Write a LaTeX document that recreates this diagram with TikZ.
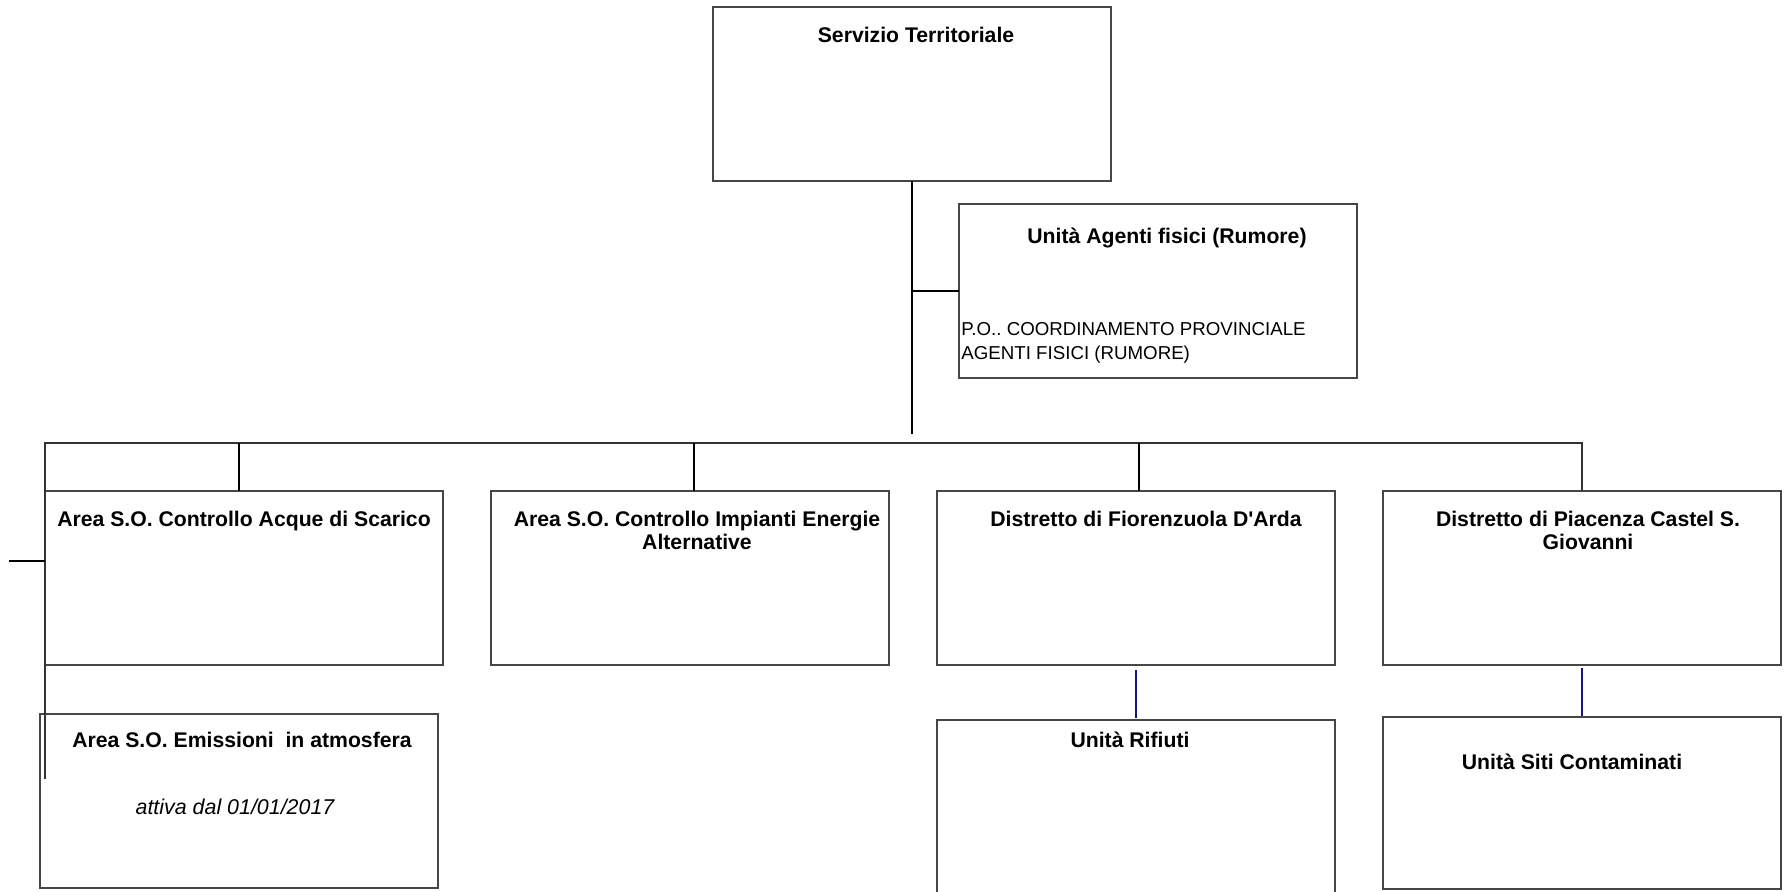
\documentclass[tikz,border=0pt]{standalone}
\usepackage{fontspec}
\setmainfont{Liberation Sans}
\frenchspacing
\definecolor{boxgray}{RGB}{70,70,70}
\definecolor{linknavy}{RGB}{20,20,130}
\tikzset{
  unitbox/.style={draw=boxgray, line width=0.75pt, fill=none, inner sep=0pt, outer sep=0pt,
    minimum width=199pt, minimum height=87pt},
  title/.style={inner sep=0pt, anchor=base, align=center, font=\fontsize{10.6}{12}\selectfont\bfseries},
  note/.style={inner sep=0pt, anchor=base west, align=left, font=\fontsize{9.35}{12}\selectfont},
  dateline/.style={inner sep=0pt, anchor=base, font=\fontsize{10.7}{12}\selectfont\itshape},
  link/.style={draw=black, line width=1pt},
  buslink/.style={draw=black!80, line width=0.8pt},
  navylink/.style={draw=linknavy, line width=0.6pt}
}
\begin{document}
\begin{tikzpicture}[x=0.5pt,y=-0.5pt]
\useasboundingbox (0,0) rectangle (1787,892);
% boxes
\node[unitbox] (top) at (912,94) {};
\node[unitbox] (agenti) at (1158,291) {};
\node[unitbox] (acque) at (244,578) {};
\node[unitbox] (impianti) at (690,578) {};
\node[unitbox] (fiorenz) at (1136,578) {};
\node[unitbox] (piacenza) at (1582,578) {};
\node[unitbox] (emiss) at (239,801) {};
\node[unitbox, minimum height=90pt] (rifiuti) at (1136,810) {};
\node[unitbox, minimum height=86pt] (siti) at (1582,803) {};
% texts (multi-line nodes are placed by the baseline of their last line)
\node[title] (ttop) at (916,43) {Servizio Territoriale};
\node[title] (tagenti) at (1167,244) {Unità Agenti fisici (Rumore)};
\node[note] (nagenti) at (961,360) {P.O.. COORDINAMENTO PROVINCIALE\\AGENTI FISICI (RUMORE)};
\node[title] (tacque) at (244,526) {Area S.O. Controllo Acque di Scarico};
\node[title] (timpianti) at (697,550) {Area S.O. Controllo Impianti Energie\\Alternative};
\node[title] (tfiorenz) at (1146,526) {Distretto di Fiorenzuola D\textquotesingle Arda};
\node[title] (tpiacenza) at (1588,550) {Distretto di Piacenza Castel S.\\Giovanni};
\node[title] (temiss) at (242,747) {Area S.O. Emissioni\ \ in atmosfera};
\node[dateline] (demiss) at (235,814) {attiva dal 01/01/2017};
\node[title] (trifiuti) at (1130,747) {Unità Rifiuti};
\node[title] (tsiti) at (1572,769) {Unità Siti Contaminati};
% connector coordinates
\coordinate (vend) at (912,434);
\coordinate (busL) at (45,443);
\coordinate (lvend) at (45,779);
\coordinate (stub) at (9,561);
% connectors
\draw[link] (top.south) -- (vend);
\draw[link] (agenti.west) -- (agenti.west -| top.south);
\draw[buslink] (lvend) -- (busL) -| (piacenza.north);
\draw[link] ([xshift=-2.5pt]acque.north) -- ([xshift=-2.5pt]acque.north |- busL);
\draw[link] ([xshift=2pt]impianti.north) -- ([xshift=2pt]impianti.north |- busL);
\draw[link] ([xshift=1.5pt]fiorenz.north) -- ([xshift=1.5pt]fiorenz.north |- busL);
\draw[link] (stub) -- (stub -| busL);
\draw[navylink] ([yshift=-2.5pt]fiorenz.south) -- ([yshift=1pt]rifiuti.north);
\draw[navylink] ([yshift=-1.5pt]piacenza.south) -- ([yshift=0.5pt]siti.north);
\end{tikzpicture}
\end{document}
